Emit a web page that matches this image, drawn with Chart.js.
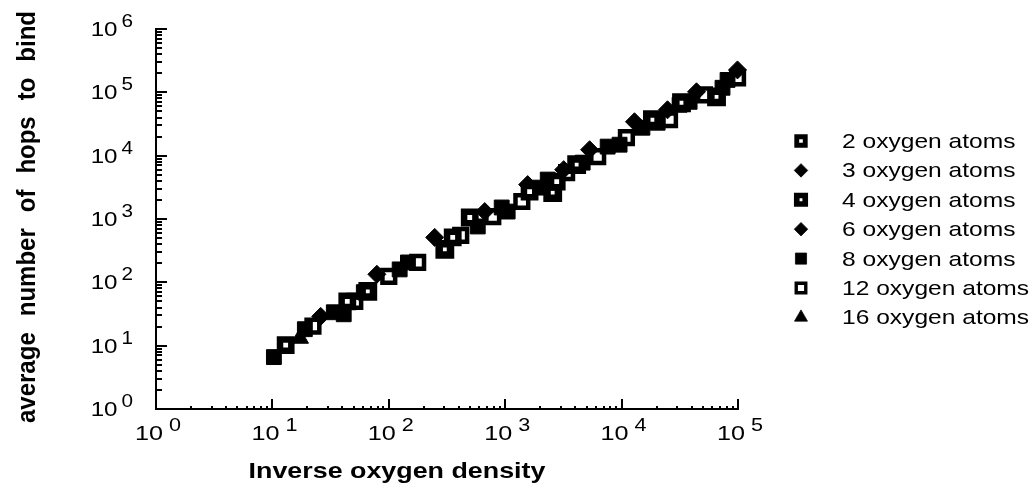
<!DOCTYPE html>
<html>
<head>
<meta charset="utf-8">
<script src="https://cdn.jsdelivr.net/npm/chart.js@4.4.1/dist/chart.umd.min.js"></script>
<style>
  html, body { margin: 0; padding: 0; background: #fff; }
  #wrap { width: 1033px; height: 489px; }
</style>
</head>
<body>
<div id="wrap"><canvas id="hopsChart" width="1033" height="489"></canvas></div>
<script>
/*
  Values (log-log scatter)
*/
var seriesNames = ['2 oxygen atoms', '3 oxygen atoms', '4 oxygen atoms', '6 oxygen atoms',
                   '8 oxygen atoms', '12 oxygen atoms', '16 oxygen atoms'];

var o2x = [13, 44, 354, 496, 1620, 2770];
var o2y = [10.2, 50, 512, 1056, 2710, 3900];

var o3x = [26, 248, 1560, 5310, 24800, 99000];
var o3y = [29, 512, 3490, 12400, 53000, 226000];

var o4x = [66, 303, 2560, 4110, 18400, 32700, 65400];
var o4y = [72, 331, 2610, 7220, 36900, 68400, 84900];

var o6x = [79, 667, 3180, 12900, 44000];
var o6y = [134, 1310, 6020, 34300, 102000];

var o8x = [10.3, 19, 33.7, 41, 61, 124, 146, 581, 933, 1050, 1980, 2320, 4630, 7590, 9610,
           15100, 20400, 31500, 38400, 73600, 81300];
var o8y = [6.6, 18.2, 33.7, 31.3, 70, 160, 206, 762, 1520, 1310, 3130, 4190, 7760, 13900, 14900,
           27600, 33100, 63600, 70800, 118000, 157000];

var o12x = [22.3, 51, 100, 177, 415, 782, 1390, 3370, 6230, 11000, 25800, 51500, 99100];
var o12y = [20.3, 50, 124, 206, 550, 1090, 1890, 5400, 9650, 19200, 36900, 91400, 169000];

var o16x = [17.2];
var o16y = [13.1];

var xDecades = [0, 1, 2, 3, 4, 5];
var yDecades = [0, 1, 2, 3, 4, 5, 6];

var xTitle = 'Inverse oxygen density';
var yTitle = 'average number of hops to bind';

var black = '#000';
var white = '#fff';
var fontFamily = '"Liberation Sans", Arial, Helvetica, sans-serif';

var toPoints = (xs, ys) => xs.map((x, i) => ({x: x, y: ys[i]}));

var allX = [o2x, o3x, o4x, o6x, o8x, o12x, o16x];
var allY = [o2y, o3y, o4y, o6y, o8y, o12y, o16y];

// marker look for each series
var markers = [
  {style: 'rect',     radius: 8,    fill: white, border: 6.5},
  {style: 'rectRot',  radius: 9,    fill: black, border: 1},
  {style: 'rect',     radius: 8,    fill: white, border: 7.5},
  {style: 'rectRot',  radius: 9,    fill: black, border: 1},
  {style: 'rect',     radius: 10.5, fill: black, border: 1},
  {style: 'rect',     radius: 9,    fill: white, border: 4.5},
  {style: 'triangle', radius: 10,   fill: black, border: 1}
];

var datasets = seriesNames.map((name, i) => ({
  label: name,
  data: toPoints(allX[i], allY[i]),
  pointStyle: markers[i].style,
  pointRadius: markers[i].radius,
  pointHoverRadius: markers[i].radius,
  backgroundColor: markers[i].fill,
  borderColor: black,
  pointBorderWidth: markers[i].border,
  clip: false
}));

// text drawn a little wider, like the scanned original
function wideText(ctx, text, x, y, sx) {
  ctx.save();
  ctx.translate(x, y);
  ctx.scale(sx, 1);
  ctx.fillText(text, 0, 0);
  ctx.restore();
}

function powerLabel(ctx, k, left, base, sx, gap) {
  ctx.font = '21px ' + fontFamily;
  var w1 = ctx.measureText('10').width * sx;
  wideText(ctx, '10', left, base, sx);
  ctx.font = '18px ' + fontFamily;
  wideText(ctx, String(k), left + w1 + gap, base - 9, sx);
}

function powerWidth(ctx, k, sx, gap) {
  ctx.font = '21px ' + fontFamily;
  var w1 = ctx.measureText('10').width * sx;
  ctx.font = '18px ' + fontFamily;
  return w1 + gap + ctx.measureText(String(k)).width * sx;
}

var axesPlugin = {
  id: 'logAxesDecor',
  afterDraw(chart) {
    var ctx = chart.ctx;
    var xs = chart.scales.x;
    var ys = chart.scales.y;
    var area = chart.chartArea;
    ctx.save();
    ctx.strokeStyle = black;
    ctx.fillStyle = black;
    ctx.lineWidth = 2;
    ctx.textBaseline = 'alphabetic';
    ctx.textAlign = 'left';

    // x ticks, pointing into the plot
    xDecades.forEach(k => {
      for (var m = 1; m <= 9; m++) {
        var v = m * Math.pow(10, k);
        if (v > xs.max) break;
        var px = Math.round(xs.getPixelForValue(v));
        var len = m === 1 ? 10 : 3;
        ctx.beginPath();
        ctx.moveTo(px, area.bottom);
        ctx.lineTo(px, area.bottom - len);
        ctx.stroke();
      }
      var cx = xs.getPixelForValue(Math.pow(10, k));
      var w = powerWidth(ctx, k, 1.2, 6);
      powerLabel(ctx, k, cx - w / 2 + 2, area.bottom + 31, 1.2, 6);
    });

    // y ticks
    yDecades.forEach(k => {
      for (var m = 1; m <= 9; m++) {
        var v = m * Math.pow(10, k);
        if (v > ys.max) break;
        var py = Math.round(ys.getPixelForValue(v));
        var len = m === 1 ? 11 : 6;
        ctx.beginPath();
        ctx.moveTo(area.left, py);
        ctx.lineTo(area.left + len, py);
        ctx.stroke();
      }
      var cy = ys.getPixelForValue(Math.pow(10, k));
      var w = powerWidth(ctx, k, 1.15, 4);
      powerLabel(ctx, k, 133 - w, cy + 7, 1.15, 4);
    });

    // x title
    ctx.font = 'bold 22px ' + fontFamily;
    var tw = ctx.measureText(xTitle).width * 1.22;
    wideText(ctx, xTitle, 397 - tw / 2, 478, 1.22);

    // y title, rotated, with wide word gaps
    ctx.save();
    ctx.translate(35, 217);
    ctx.rotate(-Math.PI / 2);
    ctx.scale(1, 1.1);
    ctx.font = 'bold 24px ' + fontFamily;
    var words = yTitle.split(' ');
    var gap = 16;
    var total = words.reduce((s, wd) => s + ctx.measureText(wd).width, 0) + gap * (words.length - 1);
    var pos = -total / 2;
    words.forEach(wd => {
      ctx.fillText(wd, pos, 0);
      pos += ctx.measureText(wd).width + gap;
    });
    ctx.restore();

    // legend on the right
    chart.data.datasets.forEach((ds, i) => {
      var rowY = 141 + i * 29.4;
      ctx.fillStyle = ds.backgroundColor;
      ctx.strokeStyle = black;
      ctx.lineWidth = ds.pointBorderWidth * 0.75;
      Chart.helpers.drawPoint(ctx, {
        pointStyle: ds.pointStyle,
        radius: ds.pointRadius * 0.75,
        borderWidth: ds.pointBorderWidth * 0.75,
        rotation: 0
      }, 801, rowY);
      ctx.fillStyle = black;
      ctx.font = '21px ' + fontFamily;
      wideText(ctx, ds.label, 842, rowY + 7, 1.17);
    });

    ctx.restore();
  }
};

var hopsChart = new Chart(document.getElementById('hopsChart'), {
  type: 'scatter',
  data: { datasets: datasets },
  options: {
    responsive: false,
    animation: false,
    devicePixelRatio: 1,
    layout: { padding: { left: 156, right: 295, top: 29, bottom: 80 } },
    plugins: {
      legend: { display: false },
      tooltip: { enabled: false }
    },
    scales: {
      x: {
        type: 'logarithmic',
        min: 1,
        max: 100000,
        grid: { display: false, drawTicks: false },
        border: { display: true, color: black, width: 2 },
        ticks: { display: false }
      },
      y: {
        type: 'logarithmic',
        min: 1,
        max: 1000000,
        grid: { display: false, drawTicks: false },
        border: { display: true, color: black, width: 2 },
        ticks: { display: false }
      }
    }
  },
  plugins: [axesPlugin]
});
</script>
</body>
</html>
